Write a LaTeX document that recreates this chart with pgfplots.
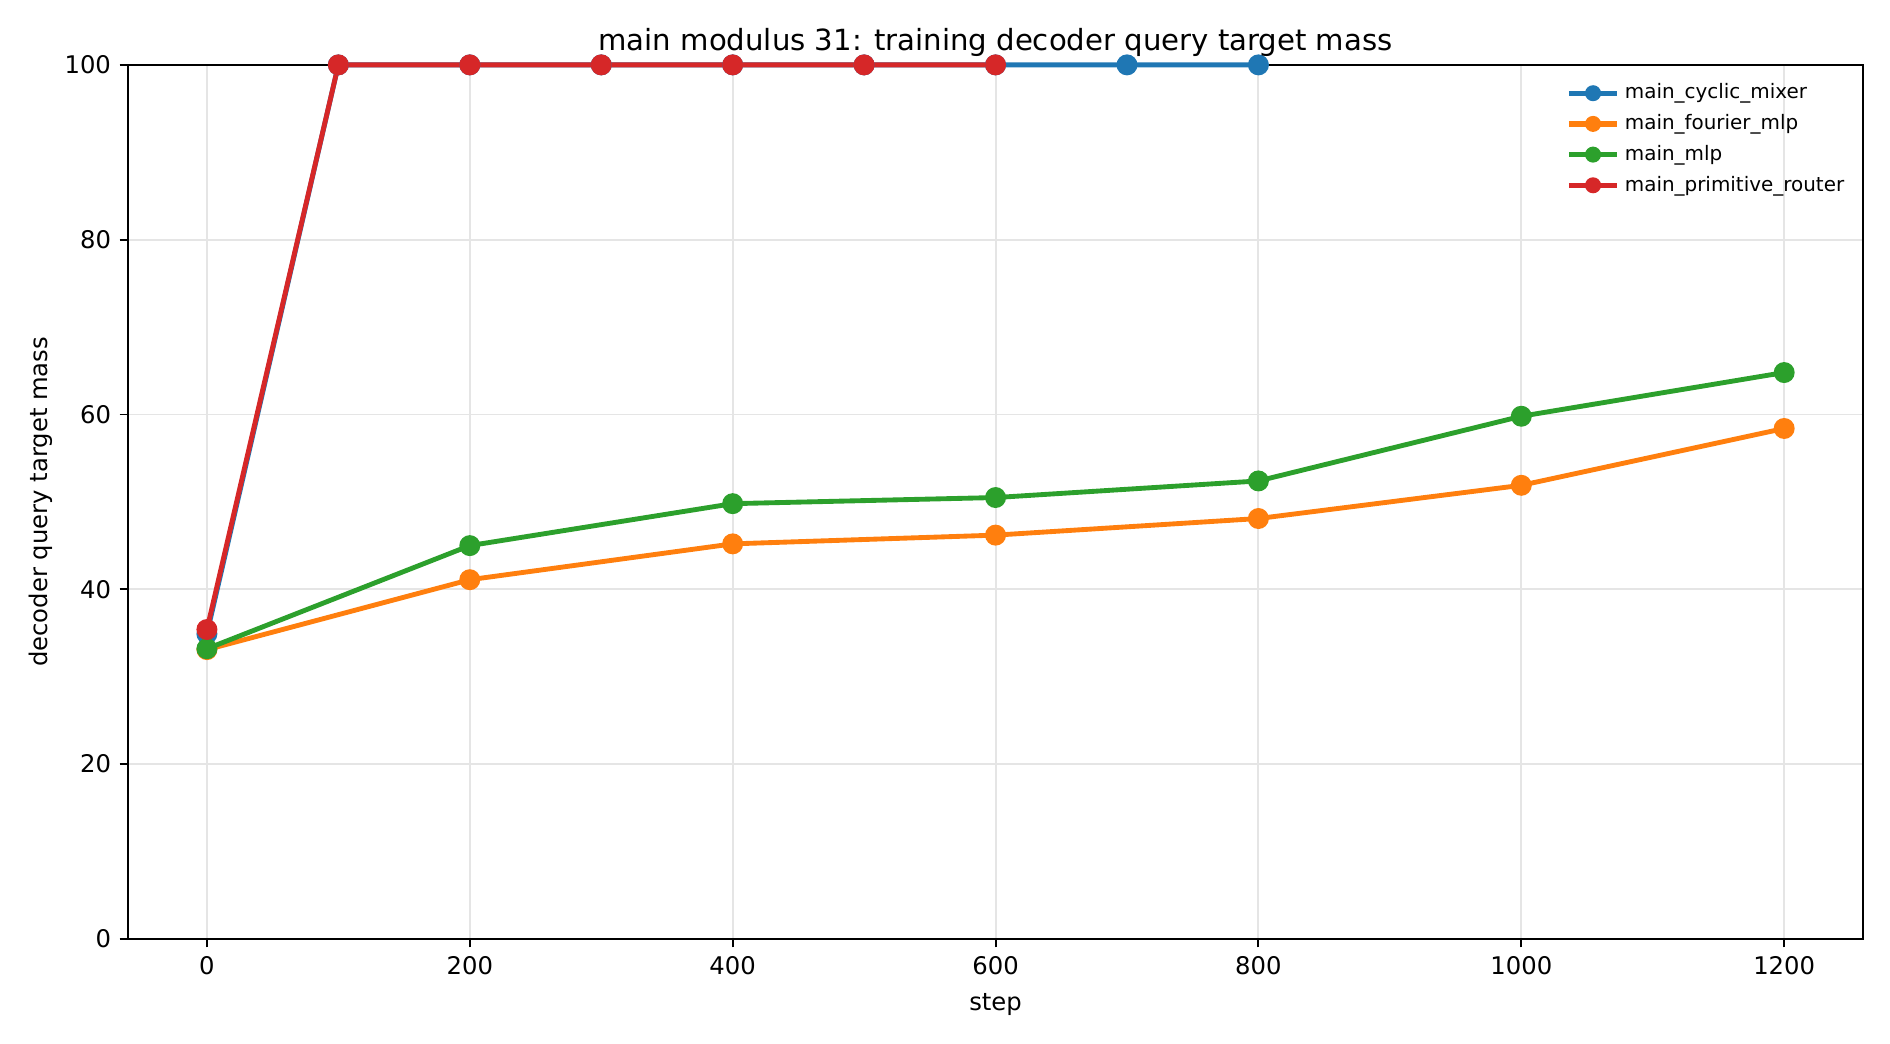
\documentclass[border=0pt]{standalone}
\usepackage{pgfplots}
\pgfplotsset{compat=1.18}
\usepackage{fontspec}
\setmainfont{DejaVu Sans}
\definecolor{tabblue}{HTML}{1F77B4}
\definecolor{taborange}{HTML}{FF7F0E}
\definecolor{tabgreen}{HTML}{2CA02C}
\definecolor{tabred}{HTML}{D62728}
\definecolor{gridgray}{HTML}{E5E5E5}
\begin{document}
\begin{tikzpicture}
\begin{axis}[
  scale only axis,
  width=714pt, height=359.7pt,
  xmin=-60, xmax=1260, ymin=0, ymax=100,
  xtick={0,200,400,600,800,1000,1200},
  ytick={0,20,40,60,80,100},
  /pgf/number format/assume math mode=true,
  /pgf/number format/set thousands separator={},
  tick label style={font=\fontsize{10}{12}\selectfont},
  tick align=outside, major tick length=3.5pt,
  tick style={line width=0.8pt, black},
  xtick pos=bottom, ytick pos=left,
  axis line style={line width=0.8pt},
  grid=major, grid style={line width=0.8pt, gridgray},
  title={main modulus 31: training decoder query target mass},
  title style={font=\fontsize{12}{14}\selectfont, at={(axis description cs:0.5,1)}, anchor=base, yshift=0pt},
  xlabel={step}, ylabel={decoder query target mass},
  label style={font=\fontsize{10}{12}\selectfont},
  xlabel style={at={(axis description cs:0.5,0)}, anchor=center, yshift=-27pt},
  ylabel style={at={(axis description cs:0,0.5)}, anchor=center, yshift=36pt},
  every axis plot/.append style={line width=2pt},
  mark options={solid},
  legend style={draw=none, fill=none, at={(axis description cs:0.995,0.99)}, anchor=north east,
    font=\fontsize{8.2}{9.8}\selectfont, row sep=0.9pt, inner sep=2pt},
  legend cell align=left,
  legend image code/.code={
    \draw[#1, mark=none, line width=2.2pt] (0pt,0pt) -- (20pt,0pt);
    \fill[#1, draw=none] (10pt,0pt) circle (3.3pt);
  },
  clip=false,
]
\addplot[tabblue, mark=*, mark size=3.3pt] coordinates {
(0,34.9) (100,100) (200,100) (300,100) (400,100) (500,100) (600,100) (700,100) (800,100)};
\addlegendentry{main\_cyclic\_mixer}
\addplot[taborange, mark=*, mark size=3.3pt] coordinates {
(0,33.1) (200,41.1) (400,45.2) (600,46.2) (800,48.1) (1000,51.9) (1200,58.4)};
\addlegendentry{main\_fourier\_mlp}
\addplot[tabgreen, mark=*, mark size=3.3pt] coordinates {
(0,33.2) (200,45.0) (400,49.8) (600,50.5) (800,52.4) (1000,59.8) (1200,64.8)};
\addlegendentry{main\_mlp}
\addplot[tabred, mark=*, mark size=3.3pt] coordinates {
(0,35.4) (100,100) (200,100) (300,100) (400,100) (500,100) (600,100)};
\addlegendentry{main\_primitive\_router}
\end{axis}
\pgfresetboundingbox
\path[use as bounding box] (-52.7pt,-43.2pt) rectangle (725.1pt,386.4pt);
\end{tikzpicture}
\end{document}
